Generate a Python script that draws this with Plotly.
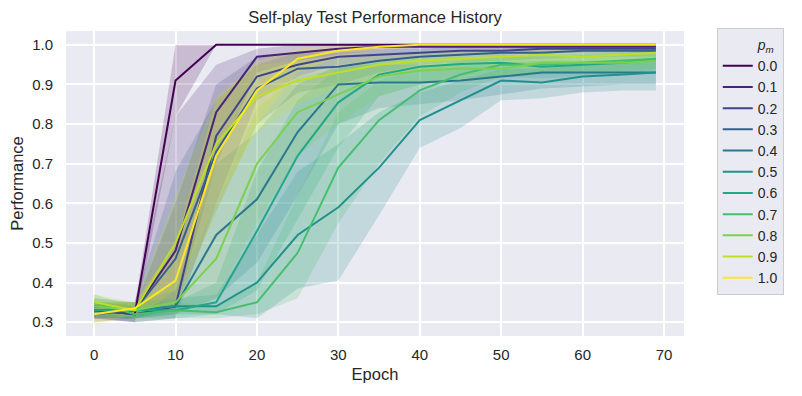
import plotly.graph_objects as go

epochs = [0, 5, 10, 15, 20, 25, 30, 35, 40, 45, 50, 55, 60, 65, 69]
p_m = ["0.0", "0.1", "0.2", "0.3", "0.4", "0.5", "0.6", "0.7", "0.8", "0.9", "1.0"]
colors = ["#440154", "#482475", "#414487", "#355f8d", "#2a788e", "#21918c",
          "#22a884", "#44bf70", "#7ad151", "#bddf26", "#fde725"]

# mean performance per p_m
mean_00 = [0.33, 0.32, 0.91, 1.0, 1.0, 1.0, 1.0, 1.0, 1.0, 1.0, 1.0, 1.0, 1.0, 1.0, 1.0]
mean_01 = [0.33, 0.33, 0.48, 0.83, 0.97, 0.98, 0.99, 0.995, 0.995, 0.995, 0.995, 0.995, 0.995, 0.995, 0.995]
mean_02 = [0.33, 0.32, 0.34, 0.77, 0.92, 0.95, 0.97, 0.975, 0.98, 0.985, 0.985, 0.99, 0.99, 0.99, 0.99]
mean_03 = [0.32, 0.33, 0.46, 0.73, 0.89, 0.94, 0.945, 0.96, 0.97, 0.975, 0.98, 0.98, 0.985, 0.985, 0.985]
mean_04 = [0.34, 0.33, 0.34, 0.52, 0.61, 0.78, 0.90, 0.905, 0.905, 0.91, 0.92, 0.93, 0.93, 0.93, 0.93]
mean_05 = [0.33, 0.33, 0.34, 0.34, 0.40, 0.52, 0.59, 0.69, 0.81, 0.86, 0.91, 0.905, 0.92, 0.925, 0.93]
mean_06 = [0.33, 0.33, 0.33, 0.35, 0.53, 0.72, 0.855, 0.925, 0.945, 0.952, 0.955, 0.945, 0.95, 0.955, 0.965]
mean_07 = [0.35, 0.32, 0.33, 0.325, 0.35, 0.475, 0.69, 0.81, 0.885, 0.925, 0.95, 0.95, 0.955, 0.96, 0.965]
mean_08 = [0.34, 0.33, 0.35, 0.46, 0.70, 0.83, 0.875, 0.92, 0.935, 0.94, 0.94, 0.955, 0.955, 0.955, 0.96]
mean_09 = [0.35, 0.33, 0.50, 0.75, 0.87, 0.91, 0.93, 0.95, 0.96, 0.965, 0.97, 0.975, 0.97, 0.975, 0.98]
mean_10 = [0.32, 0.335, 0.405, 0.72, 0.885, 0.965, 0.985, 0.995, 1.0, 1.0, 1.0, 1.0, 1.0, 1.0, 1.0]

# confidence band lower / upper edges
lo_00 = [0.31, 0.30, 0.82, 1.0, 1.0, 1.0, 1.0, 1.0, 1.0, 1.0, 1.0, 1.0, 1.0, 1.0, 1.0]
hi_00 = [0.35, 0.34, 1.0, 1.0, 1.0, 1.0, 1.0, 1.0, 1.0, 1.0, 1.0, 1.0, 1.0, 1.0, 1.0]
lo_01 = [0.31, 0.31, 0.33, 0.70, 0.93, 0.96, 0.975, 0.985, 0.99, 0.99, 0.99, 0.99, 0.99, 0.99, 0.99]
hi_01 = [0.35, 0.35, 0.82, 0.95, 0.99, 1.0, 1.0, 1.0, 1.0, 1.0, 1.0, 1.0, 1.0, 1.0, 1.0]
lo_02 = [0.31, 0.30, 0.31, 0.60, 0.86, 0.92, 0.95, 0.96, 0.97, 0.975, 0.975, 0.98, 0.98, 0.98, 0.98]
hi_02 = [0.35, 0.34, 0.60, 0.90, 0.97, 0.98, 0.985, 0.99, 0.99, 0.995, 0.995, 1.0, 1.0, 1.0, 1.0]
lo_03 = [0.30, 0.31, 0.34, 0.58, 0.80, 0.88, 0.90, 0.93, 0.95, 0.955, 0.96, 0.965, 0.97, 0.97, 0.97]
hi_03 = [0.34, 0.35, 0.68, 0.86, 0.95, 0.98, 0.98, 0.985, 0.99, 0.99, 0.99, 0.995, 0.995, 0.995, 0.995]
lo_04 = [0.32, 0.31, 0.32, 0.36, 0.45, 0.62, 0.80, 0.84, 0.85, 0.86, 0.875, 0.89, 0.895, 0.90, 0.90]
hi_04 = [0.36, 0.35, 0.38, 0.70, 0.78, 0.90, 0.95, 0.95, 0.95, 0.95, 0.955, 0.96, 0.96, 0.96, 0.96]
lo_05 = [0.31, 0.31, 0.32, 0.32, 0.31, 0.385, 0.405, 0.57, 0.74, 0.79, 0.86, 0.865, 0.88, 0.885, 0.885]
hi_05 = [0.35, 0.35, 0.36, 0.37, 0.52, 0.68, 0.75, 0.83, 0.88, 0.91, 0.94, 0.94, 0.95, 0.955, 0.96]
lo_06 = [0.31, 0.31, 0.31, 0.32, 0.38, 0.56, 0.74, 0.87, 0.90, 0.915, 0.92, 0.915, 0.92, 0.925, 0.935]
hi_06 = [0.35, 0.35, 0.35, 0.40, 0.68, 0.86, 0.94, 0.96, 0.97, 0.975, 0.975, 0.97, 0.975, 0.98, 0.985]
lo_07 = [0.33, 0.30, 0.31, 0.31, 0.32, 0.36, 0.55, 0.70, 0.82, 0.88, 0.92, 0.925, 0.93, 0.935, 0.94]
hi_07 = [0.37, 0.34, 0.35, 0.34, 0.40, 0.62, 0.83, 0.91, 0.94, 0.96, 0.975, 0.975, 0.98, 0.98, 0.985]
lo_08 = [0.32, 0.31, 0.32, 0.36, 0.55, 0.72, 0.80, 0.87, 0.90, 0.91, 0.915, 0.93, 0.93, 0.93, 0.935]
hi_08 = [0.36, 0.35, 0.40, 0.60, 0.84, 0.92, 0.94, 0.96, 0.965, 0.97, 0.965, 0.975, 0.975, 0.975, 0.98]
lo_09 = [0.33, 0.31, 0.38, 0.60, 0.78, 0.85, 0.89, 0.92, 0.935, 0.945, 0.95, 0.955, 0.95, 0.955, 0.96]
hi_09 = [0.37, 0.35, 0.62, 0.87, 0.95, 0.96, 0.97, 0.975, 0.98, 0.985, 0.99, 0.99, 0.99, 0.99, 0.995]
lo_10 = [0.29, 0.32, 0.34, 0.58, 0.80, 0.93, 0.97, 0.985, 0.995, 1.0, 1.0, 1.0, 1.0, 1.0, 1.0]
hi_10 = [0.35, 0.35, 0.50, 0.86, 0.96, 0.99, 1.0, 1.0, 1.0, 1.0, 1.0, 1.0, 1.0, 1.0, 1.0]

means = [mean_00, mean_01, mean_02, mean_03, mean_04, mean_05, mean_06, mean_07, mean_08, mean_09, mean_10]
lows = [lo_00, lo_01, lo_02, lo_03, lo_04, lo_05, lo_06, lo_07, lo_08, lo_09, lo_10]
highs = [hi_00, hi_01, hi_02, hi_03, hi_04, hi_05, hi_06, hi_07, hi_08, hi_09, hi_10]


def rgba(hex_color, a):
    h = hex_color.lstrip("#")
    r, g, b = int(h[0:2], 16), int(h[2:4], 16), int(h[4:6], 16)
    return f"rgba({r},{g},{b},{a})"


fig = go.Figure()

# bands first (below all lines, like seaborn)
for name, c, lo, hi in zip(p_m, colors, lows, highs):
    fig.add_trace(go.Scatter(
        x=epochs + epochs[::-1], y=lo + hi[::-1],
        fill="toself", fillcolor=rgba(c, 0.2), line=dict(width=0),
        mode="lines", showlegend=False, hoverinfo="skip"))

# seaborn puts the hue name in as a legend entry with an empty handle
fig.add_trace(go.Scatter(x=[None], y=[None], mode="lines", name="<i>p<sub>m</sub></i>",
                         line=dict(color="rgba(0,0,0,0)", width=2), hoverinfo="skip"))

for name, c, m in zip(p_m, colors, means):
    fig.add_trace(go.Scatter(
        x=epochs, y=m, mode="lines", name=name,
        line=dict(color=c, width=2)))

# the page body has an 8px margin, so the figure is 8px smaller than the window
fig.update_layout(
    width=794, height=388,
    margin=dict(l=58, r=118, t=23, b=60, autoexpand=False),
    paper_bgcolor="white", plot_bgcolor="#eaeaf2",
    font=dict(family="Liberation Sans, Arial, sans-serif", size=15, color="#262626"),
    title=dict(text="Self-play Test Performance History", x=0.5, xref="paper",
               y=0.977, yanchor="middle", font=dict(size=16.5)),
    legend=dict(
        x=1.053, xanchor="left", y=1.01, yanchor="top",
        bgcolor="#eaeaf2", bordercolor="#cccccc", borderwidth=1,
        font=dict(size=14), tracegroupgap=0, maxheight=380),
)
fig.update_xaxes(range=[-3.45, 72.45], tickvals=[0, 10, 20, 30, 40, 50, 60, 70],
                 showgrid=True, gridcolor="white", gridwidth=1.5, zeroline=False,
                 ticks="", automargin=False, ticklabelstandoff=8,
                 title=dict(text="Epoch", font=dict(size=16.5), standoff=6))
fig.update_yaxes(range=[0.265, 1.035], tickvals=[0.3, 0.4, 0.5, 0.6, 0.7, 0.8, 0.9, 1.0],
                 tickformat=".1f", showgrid=True, gridcolor="white", gridwidth=1.5,
                 zeroline=False, ticks="", automargin=False, ticklabelstandoff=12,
                 title=dict(text="Performance", font=dict(size=16.5), standoff=6))

fig.write_html("out.html")
